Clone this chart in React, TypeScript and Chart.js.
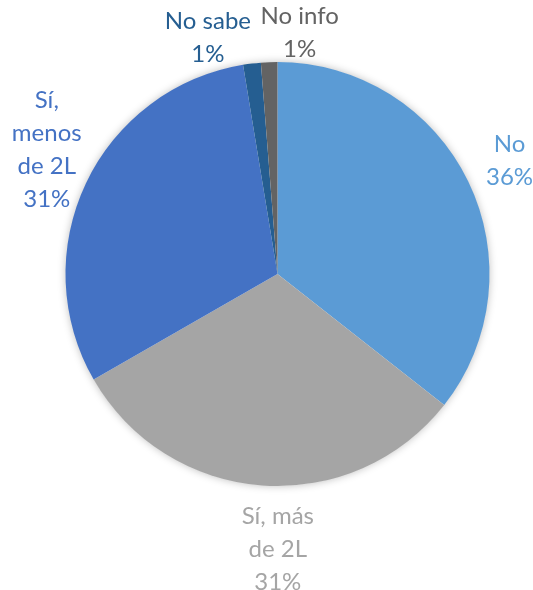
import React, { useEffect, useRef } from "react";
import { Chart, registerables } from "chart.js";

Chart.register(...registerables);

const categories = ["No", "Sí, más de 2L", "Sí, menos de 2L", "No sabe", "No info"];
const values = [35.6, 31.1, 30.7, 1.35, 1.25];
const labelLines = [["No"], ["Sí, más", "de 2L"], ["Sí,", "menos", "de 2L"], ["No sabe"], ["No info"]];
const colors = ["#5B9BD5", "#A5A5A5", "#4472C4", "#255E91", "#636363"];
// label placement tweaks: angle shift (deg) and distance beyond the pie edge (px)
const labelAngleShift = [0, -4.2, 2.9, -9.5, 7.5];
const labelDistance = [46, 63, 50, 34, 30];

const FONT = "Lato, 'Open Sans', sans-serif";
const LINE_H = 33;

const shadowPlugin = {
  id: "pieShadow",
  beforeDatasetsDraw(chart: any) {
    const meta = chart.getDatasetMeta(0);
    const arc = meta.data[0];
    if (!arc) return;
    const { x, y, outerRadius } = arc.getProps(["x", "y", "outerRadius"], true);
    const ctx = chart.ctx;
    ctx.save();
    ctx.shadowColor = "rgba(0,0,0,0.28)";
    ctx.shadowBlur = 9;
    ctx.shadowOffsetX = 0;
    ctx.shadowOffsetY = 0;
    ctx.fillStyle = "#ffffff";
    ctx.beginPath();
    ctx.arc(x, y, outerRadius - 0.5, 0, Math.PI * 2);
    ctx.fill();
    ctx.restore();
  },
};

const labelPlugin = {
  id: "pieLabels",
  afterDatasetsDraw(chart: any) {
    const meta = chart.getDatasetMeta(0);
    const ctx = chart.ctx;
    const data = chart.data.datasets[0].data as number[];
    const total = data.reduce((a, b) => a + b, 0);
    ctx.save();
    ctx.font = `24px ${FONT}`;
    ctx.textAlign = "center";
    ctx.textBaseline = "middle";
    meta.data.forEach((arc: any, i: number) => {
      const { x, y, startAngle, endAngle, outerRadius } = arc.getProps(
        ["x", "y", "startAngle", "endAngle", "outerRadius"],
        true
      );
      const mid = (startAngle + endAngle) / 2 + (labelAngleShift[i] * Math.PI) / 180;
      const d = outerRadius + labelDistance[i];
      const cx = x + Math.cos(mid) * d;
      const cy = y + Math.sin(mid) * d;
      const lines = [...labelLines[i], Math.round((data[i] / total) * 100) + "%"];
      const top = cy - ((lines.length - 1) * LINE_H) / 2;
      ctx.fillStyle = colors[i];
      lines.forEach((ln, k) => ctx.fillText(ln, cx, top + k * LINE_H));
    });
    ctx.restore();
  },
};

export default function App() {
  const ref = useRef<HTMLCanvasElement | null>(null);
  useEffect(() => {
    if (!ref.current) return;
    const chart = new Chart(ref.current, {
      type: "pie",
      data: {
        labels: categories,
        datasets: [
          {
            data: values,
            backgroundColor: colors,
            borderWidth: 0,
          },
        ],
      },
      options: {
        responsive: false,
        animation: false,
        layout: { padding: { left: 65, right: 43, top: 62, bottom: 104 } },
        plugins: {
          legend: { display: false },
          tooltip: { enabled: false },
        },
      },
      plugins: [shadowPlugin, labelPlugin],
    });
    return () => chart.destroy();
  }, []);
  return (
    <div style={{ position: "absolute", left: 0, top: 0, width: 533, height: 590, background: "#fff" }}>
      <canvas ref={ref} width={533} height={590} style={{ width: 533, height: 590 }} />
    </div>
  );
}
